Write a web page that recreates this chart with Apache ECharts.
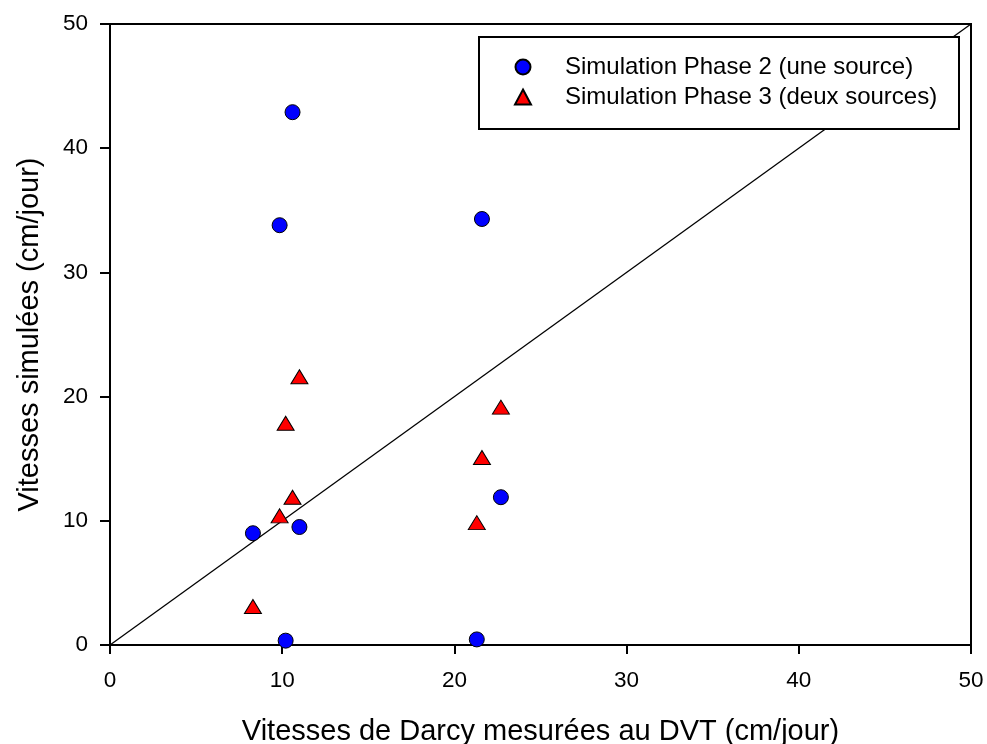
<!DOCTYPE html>
<html>
<head>
<meta charset="utf-8">
<script src="https://cdn.jsdelivr.net/npm/echarts@6/dist/echarts.min.js"></script>
<style>
html,body{margin:0;padding:0;background:#fff;}
#chart{width:987px;height:744px;}
</style>
</head>
<body>
<div id="chart"></div>
<script>
const xTicks = [0, 10, 20, 30, 40, 50];
const yTicks = [0, 10, 20, 30, 40, 50];
const seriesNames = ['Simulation Phase 2 (une source)', 'Simulation Phase 3 (deux sources)'];
const phase2X = [10.6, 9.85, 21.6, 8.3, 11.0, 10.2, 21.3, 22.7];
const phase2Y = [42.9, 33.8, 34.3, 9.0, 9.5, 0.35, 0.45, 11.9];
const phase3X = [11.0, 10.2, 10.6, 9.85, 8.3, 21.6, 21.3, 22.7];
const phase3Y = [21.6, 17.85, 11.9, 10.4, 3.1, 15.1, 9.85, 19.15];
const refLine = [[0, 0], [50, 50]];

const FONT = 'Liberation Sans, Arial, sans-serif';
const chart = echarts.init(document.getElementById('chart'));
const zip = (xs, ys) => xs.map((x, i) => [x, ys[i]]);

chart.setOption({
  backgroundColor: '#fff',
  animation: false,
  grid: {left: 110, right: 16, top: 24, bottom: 99, show: true, borderColor: '#000', borderWidth: 2,
         backgroundColor: 'transparent', containLabel: false, outerBoundsMode: 'none'},
  xAxis: {
    type: 'value', min: xTicks[0], max: xTicks[xTicks.length - 1], interval: 10,
    name: 'Vitesses de Darcy mesurées au DVT (cm/jour)', nameLocation: 'middle', nameGap: 72,
    nameTextStyle: {fontFamily: FONT, fontSize: 29, color: '#000'},
    axisLine: {lineStyle: {color: '#000', width: 2}},
    axisTick: {length: 9, lineStyle: {color: '#000', width: 2}},
    axisLabel: {fontFamily: FONT, fontSize: 22.5, color: '#000', margin: 24},
    splitLine: {show: false}
  },
  yAxis: {
    type: 'value', min: yTicks[0], max: yTicks[yTicks.length - 1], interval: 10,
    name: 'Vitesses simulées (cm/jour)', nameLocation: 'middle', nameGap: 66,
    nameTextStyle: {fontFamily: FONT, fontSize: 29, color: '#000'},
    axisLine: {lineStyle: {color: '#000', width: 2}},
    axisTick: {length: 10, lineStyle: {color: '#000', width: 2}},
    axisLabel: {fontFamily: FONT, fontSize: 22.5, color: '#000', margin: 22},
    splitLine: {show: false}
  },
  graphic: [{
    type: 'rect', z: 10, left: 478, top: 36,
    shape: {width: 480, height: 92},
    style: {fill: '#fff', stroke: '#000', lineWidth: 2}
  }],
  legend: {
    data: seriesNames, orient: 'vertical', left: 514, top: 52, padding: 0, itemGap: 0,
    itemWidth: 16, itemHeight: 15, z: 20,
    textStyle: {fontFamily: FONT, fontSize: 24, color: '#000', lineHeight: 30, padding: [0, 0, 0, 29]}
  },
  series: [
    {
      type: 'line', data: refLine, showSymbol: false, silent: true, z: 1,
      lineStyle: {color: '#000', width: 1.3}
    },
    {
      name: seriesNames[0], type: 'scatter', data: zip(phase2X, phase2Y), symbol: 'circle', symbolSize: 15, z: 3,
      itemStyle: {color: '#0000ff', borderColor: '#000', borderWidth: 1, opacity: 1}
    },
    {
      name: seriesNames[1], type: 'scatter', data: zip(phase3X, phase3Y), symbol: 'triangle', symbolSize: [17, 14], z: 3,
      itemStyle: {color: '#ff0000', borderColor: '#000', borderWidth: 1, opacity: 1}
    }
  ]
});
</script>
</body>
</html>
